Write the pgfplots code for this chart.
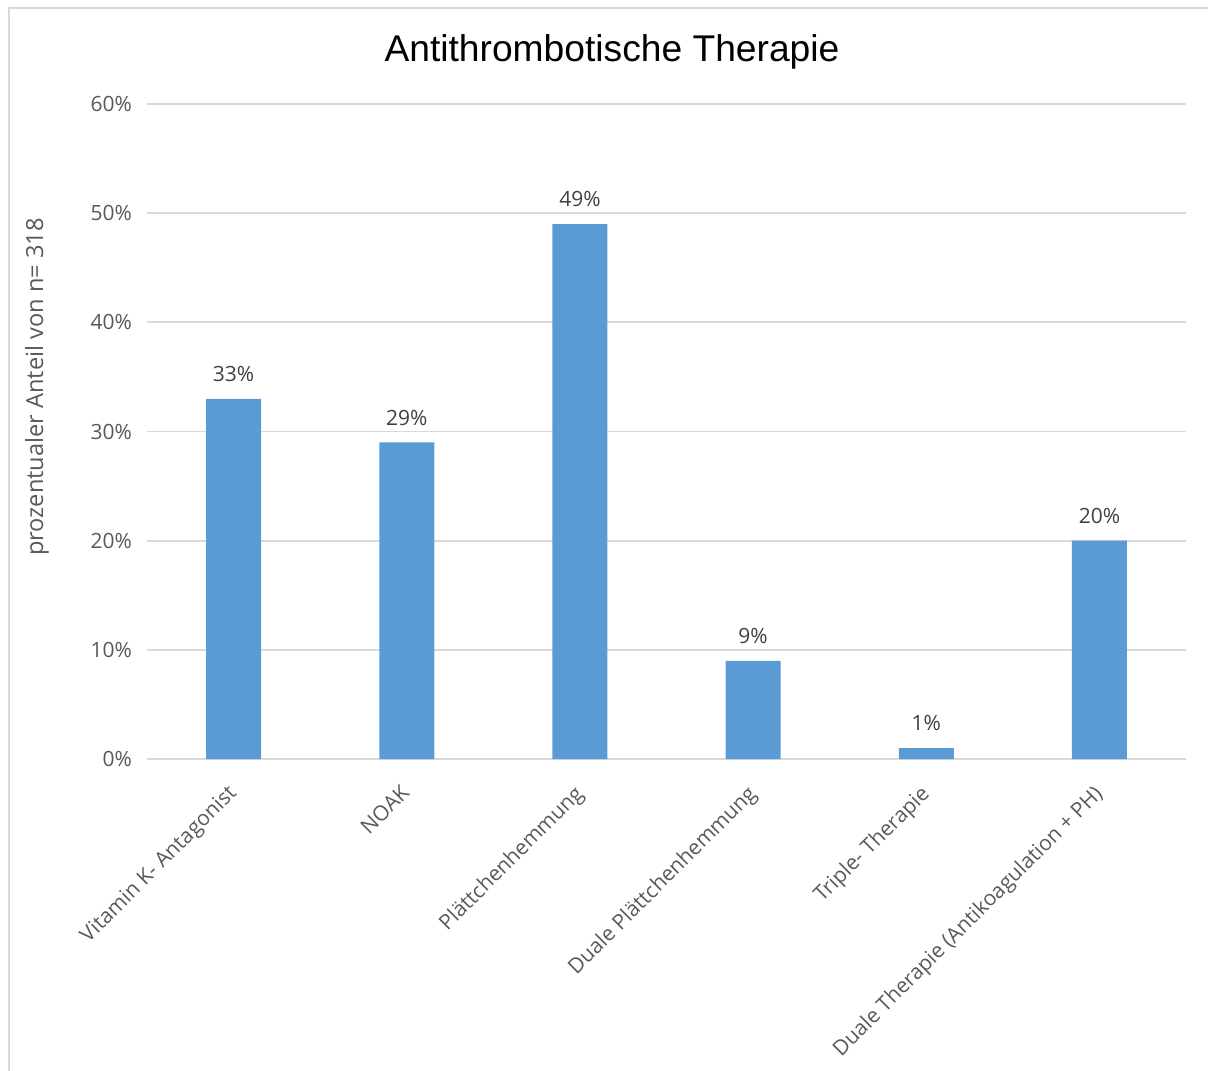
\documentclass[border=0pt]{standalone}
\usepackage{pgfplots}
\pgfplotsset{compat=1.18}
\usepackage{fontspec}
\setmainfont{Open Sans}
\newfontfamily\titlefont{Liberation Sans}
\definecolor{barblue}{HTML}{5B9BD5}
\definecolor{gridgray}{HTML}{D9D9D9}
\definecolor{ticktext}{HTML}{595959}
\definecolor{valtext}{HTML}{404040}
\begin{document}
\begin{tikzpicture}
\useasboundingbox (0,0) rectangle (604pt,535pt);
\draw[gridgray, line width=0.8pt] (4.5pt,-2pt) -- (4.5pt,531pt) -- (606pt,531pt);
\begin{axis}[
  at={(73.5pt,155.5pt)}, anchor=south west,
  scale only axis, width=519.5pt, height=327.5pt,
  xmin=-0.5, xmax=5.5, ymin=0, ymax=60,
  ybar, bar width=27.5pt,
  axis line style={draw=none},
  tick style={draw=none},
  ymajorgrids, grid style={gridgray, line width=0.9pt},
  ytick={0,10,...,60},
  yticklabel={\pgfmathprintnumber{\tick}\%},
  /pgf/number format/assume math mode=true,
  yticklabel style={font=\fontsize{10.5}{12}\selectfont, text=ticktext, xshift=-4pt},
  xtick={0,...,5},
  xticklabels={Vitamin K- Antagonist, NOAK, Plättchenhemmung, Duale Plättchenhemmung, Triple- Therapie, Duale Therapie (Antikoagulation + PH)},
  xticklabel style={font=\fontsize{10.5}{12}\selectfont, text=ticktext, rotate=45, anchor=north east, inner sep=0pt, xshift=-8pt, yshift=-3pt},
  nodes near coords={\pgfmathprintnumber{\pgfplotspointmeta}\%},
  every node near coord/.append style={font=\fontsize{10.5}{12}\selectfont, text=valtext, yshift=5pt},
]
\addplot[fill=barblue, draw=none] coordinates {(0,33) (1,29) (2,49) (3,9) (4,1) (5,20)};
\end{axis}
\node[font=\titlefont\fontsize{18.6}{22}\selectfont] at (306pt,509pt) {Antithrombotische Therapie};
\node[rotate=90, font=\fontsize{11.8}{14}\selectfont, text=ticktext] at (18.5pt,341.5pt) {prozentualer Anteil von n= 318};
\end{tikzpicture}
\end{document}
